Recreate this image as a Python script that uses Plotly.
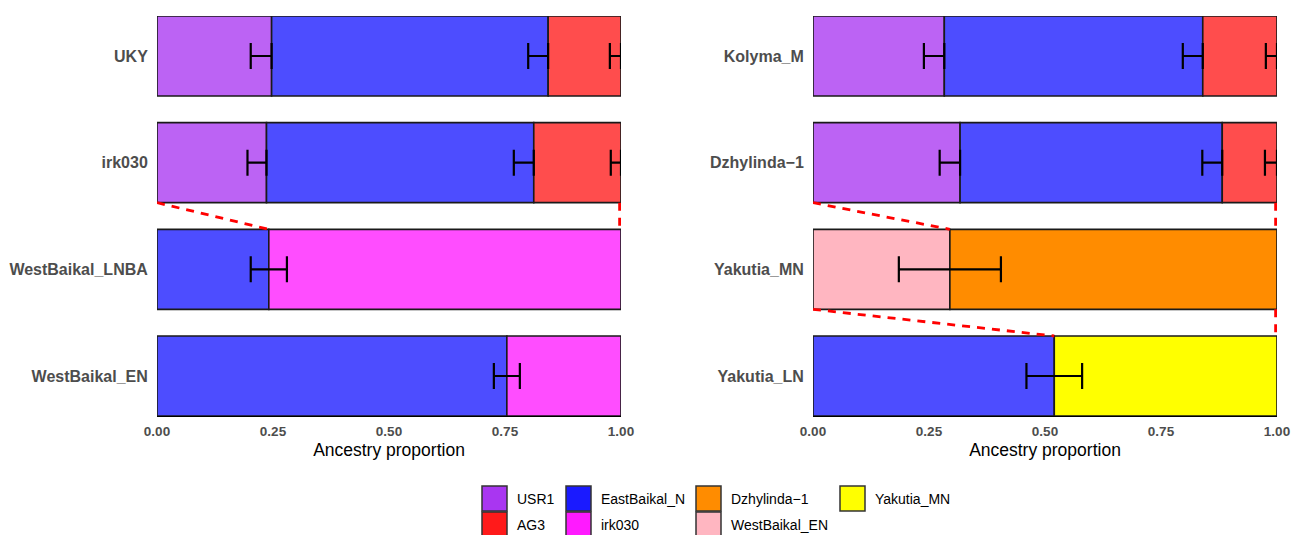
import plotly.graph_objects as go

# ---------------- data ----------------
left_pops = ["UKY", "irk030", "WestBaikal_LNBA", "WestBaikal_EN"]
right_pops = ["Kolyma_M", "Dzhylinda\u22121", "Yakutia_MN", "Yakutia_LN"]

# stacking order of sources in each panel
left_sources = ["USR1", "EastBaikal_N", "AG3", "irk030"]
right_sources = ["USR1", "WestBaikal_EN", "EastBaikal_N", "AG3", "Dzhylinda\u22121", "Yakutia_MN"]

# ancestry proportions (None = source not in model)
left_USR1 = [0.247, 0.236, None, None]
left_EastBaikal_N = [0.596, 0.576, 0.241, 0.754]
left_AG3 = [0.157, 0.188, None, None]
left_irk030 = [None, None, 0.759, 0.246]

right_USR1 = [0.283, 0.317, None, None]
right_WestBaikal_EN = [None, None, 0.295, None]
right_EastBaikal_N = [0.557, 0.565, None, 0.520]
right_AG3 = [0.160, 0.118, None, None]
right_Dzhylinda = [None, None, 0.705, None]
right_Yakutia_MN = [None, None, None, 0.480]

# error extents (minus, plus) at the right end of each component
left_USR1_err = [(0.045, 0), (0.041, 0), None, None]
left_EastBaikal_N_err = [(0.043, 0), (0.043, 0), (0.039, 0.039), (0.028, 0.028)]
left_AG3_err = [(0.024, 0), (0.022, 0), None, None]
left_irk030_err = [None, None, None, None]

right_USR1_err = [(0.044, 0), (0.044, 0), None, None]
right_WestBaikal_EN_err = [None, None, (0.110, 0.110), None]
right_EastBaikal_N_err = [(0.043, 0), (0.043, 0), None, (0.060, 0.060)]
right_AG3_err = [(0.024, 0), (0.026, 0), None, None]
right_Dzhylinda_err = [None, None, None, None]
right_Yakutia_MN_err = [None, None, None, None]

# "source population" links: (source row, target row, source name in target)
left_links = [("irk030", "WestBaikal_LNBA", "irk030")]
right_links = [("Dzhylinda\u22121", "Yakutia_MN", "Dzhylinda\u22121"),
               ("Yakutia_MN", "Yakutia_LN", "Yakutia_MN")]

bar_colors = {
    "USR1": "#BC63F4", "EastBaikal_N": "#4D4DFF", "AG3": "#FF4D4D",
    "irk030": "#FF4DFF", "Dzhylinda\u22121": "#FF8C00", "WestBaikal_EN": "#FFB6C1",
    "Yakutia_MN": "#FFFF00",
}
key_colors = {
    "USR1": "#A936F1", "EastBaikal_N": "#1A1AFF", "AG3": "#FF1A1A",
    "irk030": "#FF1AFF", "Dzhylinda\u22121": "#FF8C00", "WestBaikal_EN": "#FFB6C1",
    "Yakutia_MN": "#FFFF00",
}
legend_rows = [["USR1", "EastBaikal_N", "Dzhylinda\u22121", "Yakutia_MN"],
               ["AG3", "irk030", "WestBaikal_EN"]]

# ---------------- figure ----------------
W, H = 1293, 535
BW = 0.75
fig = go.Figure()

panels = [
    dict(pops=left_pops, sources=left_sources,
         vals=[left_USR1, left_EastBaikal_N, left_AG3, left_irk030],
         errs=[left_USR1_err, left_EastBaikal_N_err, left_AG3_err, left_irk030_err],
         links=left_links, xa="x", ya="y"),
    dict(pops=right_pops, sources=right_sources,
         vals=[right_USR1, right_WestBaikal_EN, right_EastBaikal_N, right_AG3,
               right_Dzhylinda, right_Yakutia_MN],
         errs=[right_USR1_err, right_WestBaikal_EN_err, right_EastBaikal_N_err,
               right_AG3_err, right_Dzhylinda_err, right_Yakutia_MN_err],
         links=right_links, xa="x2", ya="y2"),
]

for p in panels:
    n = len(p["pops"])
    ypos = [n - 1 - i for i in range(n)]
    cum = [0.0] * n
    starts = {}
    err_x, err_y, err_m, err_p = [], [], [], []
    for src, vals, errs in zip(p["sources"], p["vals"], p["errs"]):
        base = list(cum)
        for i, v in enumerate(vals):
            if v is not None:
                starts[(p["pops"][i], src)] = cum[i]
                cum[i] += v
                if errs[i] is not None:
                    err_x.append(cum[i]); err_y.append(ypos[i])
                    err_m.append(errs[i][0]); err_p.append(errs[i][1])
        fig.add_trace(go.Bar(
            x=vals, y=ypos, base=base, orientation="h", width=BW,
            marker=dict(color=bar_colors[src], line=dict(color="#1a1a1a", width=1.6)),
            xaxis=p["xa"], yaxis=p["ya"], showlegend=False, name=src,
        ))
    # error bars
    fig.add_trace(go.Scatter(
        x=err_x, y=err_y, mode="markers", marker=dict(size=1, color="rgba(0,0,0,0)"),
        error_x=dict(type="data", symmetric=False, array=err_p, arrayminus=err_m,
                     color="black", thickness=2.2, width=13),
        xaxis=p["xa"], yaxis=p["ya"], showlegend=False, hoverinfo="skip",
    ))
    # dashed link lines
    for src_row, tgt_row, comp in p["links"]:
        i_s = p["pops"].index(src_row); i_t = p["pops"].index(tgt_row)
        y_s = ypos[i_s] - BW / 2
        y_t = ypos[i_t] + BW / 2
        x_t = starts[(tgt_row, comp)]
        for xs, xt in [(0.0, x_t), (0.997, 0.997)]:
            fig.add_trace(go.Scatter(
                x=[xs, xt], y=[y_s, y_t], mode="lines",
                line=dict(color="red", width=2.8, dash="8px,7px"),
                xaxis=p["xa"], yaxis=p["ya"], showlegend=False, hoverinfo="skip",
                cliponaxis=False,
            ))

tick_font = dict(family="Arial, Liberation Sans", size=13.5, color="#4D4D4D", weight="bold")
ylab_font = dict(family="Arial, Liberation Sans", size=16, color="#4D4D4D", weight="bold")
title_font = dict(family="Arial, Liberation Sans", size=17.5, color="black")

y_top, y_bot = 16, 416
ydom = [1 - y_bot / H, 1 - y_top / H]
xdom_l = [157 / W, 621 / W]
xdom_r = [813 / W, 1277 / W]

common_x = dict(range=[0, 1], tickvals=[0, 0.25, 0.5, 0.75, 1.0],
                ticktext=["0.00", "0.25", "0.50", "0.75", "1.00"],
                tickfont=tick_font, showgrid=False, zeroline=False, automargin=False,
                ticks="outside", ticklen=3, tickcolor="rgba(0,0,0,0)",
                showline=True, linecolor="black", linewidth=1.2,
                title=dict(text="Ancestry proportion", font=title_font, standoff=5))

def yax(pops):
    n = len(pops)
    return dict(range=[-BW / 2, n - 1 + BW / 2], tickvals=list(range(n)),
                ticktext=list(reversed(pops)), tickfont=ylab_font, automargin=False,
                showgrid=False, zeroline=False, ticks="outside", ticklen=5,
                tickcolor="rgba(0,0,0,0)", domain=ydom, showline=False)

fig.update_layout(
    width=W, height=H, margin=dict(l=0, r=0, t=0, b=0, autoexpand=False),
    plot_bgcolor="white", paper_bgcolor="white", barmode="overlay",
    xaxis=dict(domain=xdom_l, anchor="y", **common_x),
    yaxis=dict(anchor="x", **yax(left_pops)),
    xaxis2=dict(domain=xdom_r, anchor="y2", **common_x),
    yaxis2=dict(anchor="x2", **yax(right_pops)),
    showlegend=False,
)

# manual legend (2 rows, ggplot-style keys)
col_x = [482, 566, 696, 840]
row_y = [486, 512]
key = 25
for r, row in enumerate(legend_rows):
    for c, name in enumerate(row):
        x0 = col_x[c]; y0 = row_y[r]
        fig.add_shape(type="rect", xref="paper", yref="paper",
                      x0=x0 / W, x1=(x0 + key) / W,
                      y0=1 - (y0 + key) / H, y1=1 - y0 / H,
                      fillcolor=key_colors[name], line=dict(color="#333333", width=1.5))
        fig.add_annotation(xref="paper", yref="paper", x=(x0 + key + 8) / W,
                           y=1 - (y0 + key / 2) / H, text=name, showarrow=False,
                           xanchor="left", yanchor="middle",
                           font=dict(family="Arial, Liberation Sans", size=14, color="black"))

fig.write_html("out.html", config={"displayModeBar": False},
               post_script="document.body.style.margin='0';document.body.style.overflow='hidden';")
